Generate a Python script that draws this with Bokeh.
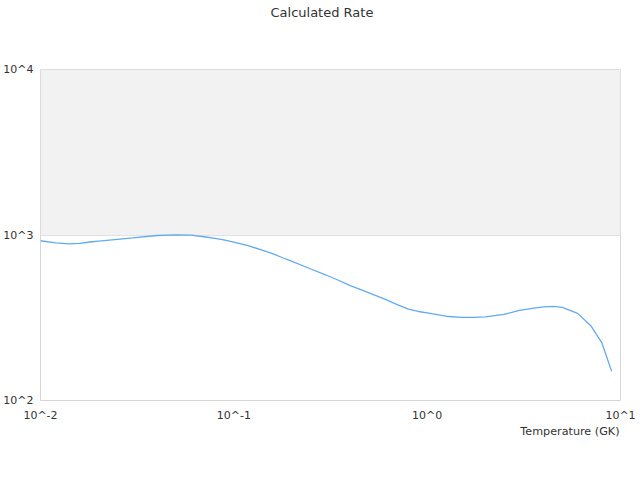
from bokeh.plotting import figure
from bokeh.models import FixedTicker, BoxAnnotation, Title
from bokeh.embed import file_html
from bokeh.resources import INLINE

# Data
temperature = [0.01, 0.012, 0.014, 0.016, 0.018, 0.02, 0.025, 0.03, 0.04, 0.05,
               0.06, 0.07, 0.08, 0.09, 0.1, 0.12, 0.14, 0.16, 0.18, 0.2,
               0.25, 0.3, 0.35, 0.4, 0.45, 0.5, 0.6, 0.7, 0.8, 0.9,
               1.0, 1.25, 1.5, 1.75, 2.0, 2.5, 3.0, 3.5, 4.0, 4.5,
               5.0, 6.0, 7.0, 8.0, 9.0]
rate = [923, 896, 885, 891, 907, 919, 942, 960, 993, 1003,
        997, 976, 953, 930, 907, 859, 809, 768, 726, 692,
        623, 573, 531, 495, 469, 447, 411, 380, 357, 345,
        338, 323, 318, 318, 320, 331, 350, 360, 368, 370,
        365, 336, 284, 224, 150]

x_ticks = [0.01, 0.1, 1, 10]
x_tick_labels = ["10^-2", "10^-1", "10^0", "10^1"]
y_ticks = [100, 1000, 10000]
y_tick_labels = ["10^2", "10^3", "10^4"]
band_bottom, band_top = 1000, 10000

FONT = "DejaVu Sans"
TXT = "#333333"

p = figure(width=636, height=464, x_axis_type="log", y_axis_type="log",
           x_range=(0.01, 10), y_range=(100, 10000),
           output_backend="svg", toolbar_location=None,
           min_border_left=40, min_border_right=16,
           min_border_top=69, min_border_bottom=64)

# spacer panel between the frame and the chart title
p.add_layout(Title(text=" ", text_font_size="10px", standoff=37), "above")

p.title.text = "Calculated Rate"
p.title.align = "left"
p.title.offset = 230
p.title.standoff = 0
p.title.vertical_align = "bottom"
p.title.text_font = FONT
p.title.text_font_size = "13px"
p.title.text_font_style = "normal"
p.title.text_color = TXT

p.outline_line_color = "#d6d6d6"
p.outline_line_width = 1

band = BoxAnnotation(bottom=band_bottom, top=band_top, fill_color="#f2f2f2",
                     fill_alpha=1.0, line_alpha=0, level="image")
p.add_layout(band)

p.xgrid.visible = False
p.ygrid.ticker = FixedTicker(ticks=y_ticks)
p.ygrid.grid_line_color = "#e2e2e2"

for ax, ticks, labels in ((p.xaxis[0], x_ticks, x_tick_labels),
                          (p.yaxis[0], y_ticks, y_tick_labels)):
    ax.ticker = FixedTicker(ticks=ticks)
    ax.major_label_overrides = dict(zip(ticks, labels))
    ax.axis_line_color = None
    ax.major_tick_line_color = None
    ax.minor_tick_line_color = None
    ax.major_tick_in = 0
    ax.major_tick_out = 0
    ax.major_label_text_font = FONT
    ax.major_label_text_font_size = "11px"
    ax.major_label_text_color = TXT

p.xaxis.major_label_standoff = 8
p.yaxis.major_label_standoff = 7

p.add_layout(Title(text="Temperature (GK)", align="right", offset=1,
                   standoff=0, vertical_align="top",
                   text_font=FONT, text_font_size="11.2px",
                   text_font_style="normal", text_color=TXT), "below")

p.line(temperature, rate, line_color="#62aaf0", line_width=1.3)

open("out.html", "w").write(file_html(p, INLINE))
